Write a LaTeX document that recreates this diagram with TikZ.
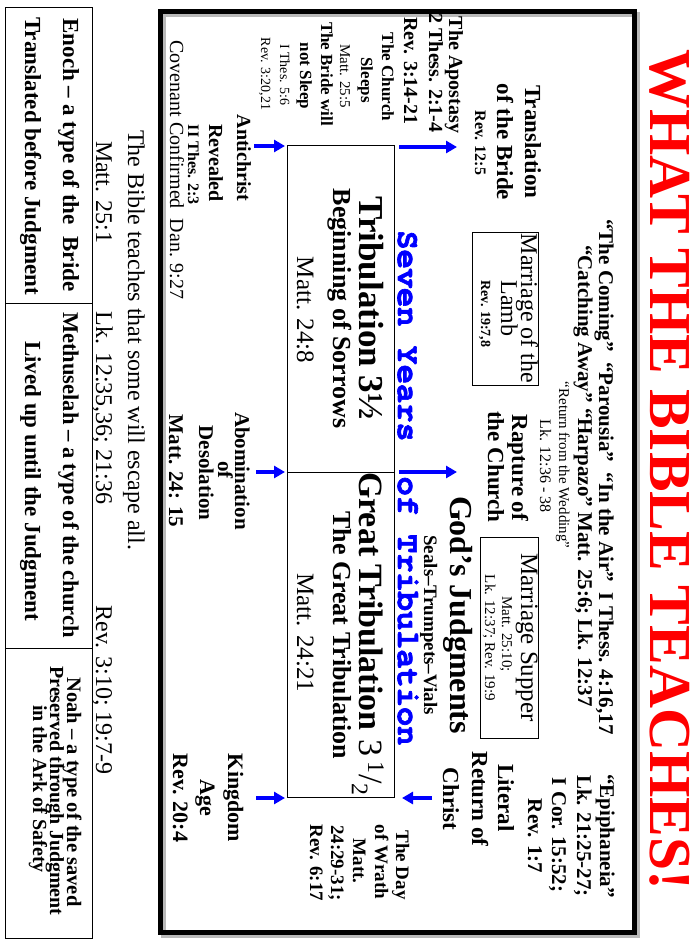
\documentclass[tikz,border=0pt]{standalone}
\usepackage{fontspec}
\setmainfont{Liberation Serif}
\newfontfamily\cursorfont{texgyrecursor}[Extension=.otf, UprightFont=*-regular, BoldFont=*-bold, BoldFeatures={FakeBold=2}]
\usetikzlibrary{arrows.meta}
\newcommand\myfs[1]{\fontsize{#1}{#1}\selectfont}
\tikzset{
  lbl/.style={inner sep=0pt, outer sep=0pt, anchor=base},
  bfs/.style={lbl, font=\myfs{#1}\bfseries},
  rms/.style={lbl, font=\myfs{#1}},
  barrow/.style={draw=blue, line width=3.5pt, -{Triangle[length=11pt,width=12pt]}},
  boxline/.style={draw, line width=1pt, inner sep=0pt},
  bluetitle/.style={lbl, font=\myfs{32}\cursorfont\bfseries, text=blue},
}
\begin{document}
\begin{tikzpicture}[x=1pt,y=1pt]
\useasboundingbox[fill=white] (0,-947) rectangle (697,0);
\begin{scope}[rotate=-90, transform shape]
% frame with shadow
\draw[gray!55, line width=5pt] (15,163) rectangle (935,637);
\draw[black, line width=5pt] (12,160) rectangle (932,634);

% title
\node[lbl, font=\myfs{59.5}\bfseries, text=red] (title) at (470,650) {WHAT THE BIBLE TEACHES!};

% top centre lines
\node[bfs=21] (coming) at (477,599) {“The Coming”~~“Parousia”~~“In the Air”~~I Thess. 4:16,17};
\node[bfs=21] (catching) at (476,578) {“Catching Away” “Harpazo” Matt. 25:6; Lk. 12:37};
\node[rms=15] (wedding) at (465,559) {“Return from the Wedding”};
\node[rms=16] (lk1236) at (466,540) {Lk. 12:36 - 38};

% left column
\node[bfs=20] (apostasy) at (75,449) {The Apostasy};
\node[bfs=20] (thess2) at (73,429) {2 Thess. 2:1-4};
\node[bfs=20] (rev314) at (71,404) {Rev. 3:14-21};
\node[bfs=17] (church) at (77,382) {The Church};
\node[bfs=17] (sleeps) at (80,361) {Sleeps};
\node[rms=15] (matt255) at (76,340) {Matt. 25:5};
\node[bfs=17] (bride) at (74,321) {The Bride will};
\node[bfs=17] (notsleep) at (76,300) {not Sleep};
\node[rms=14] (thes56) at (75,280) {I Thes. 5:6};
\node[rms=14] (rev320) at (74,261) {Rev. 3:20,21};

\node[bfs=20] (antichrist) at (158,237) {Antichrist};
\node[bfs=20] (revealed) at (163,209) {Revealed};
\node[bfs=16] (thes23) at (165,188) {II Thes. 2:3};
\node[rms=20] (covenant) at (170,170) {Covenant Confirmed~~Dan. 9:27};

% translation
\node[bfs=23] (transl) at (142,525) {Translation};
\node[bfs=23] (ofbride) at (142,497) {of the Bride};
\node[bfs=16] (rev125) at (143,475) {Rev. 12:5};

% marriage of the lamb
\node[boxline, minimum width=153pt, minimum height=66pt] (lambbox) at (308.5,505) {};
\node[rms=24] (marlamb1) at (308.5,521) {Marriage of the};
\node[rms=24] (marlamb2) at (308.5,501) {Lamb};
\node[bfs=14] (rev197) at (314,481) {Rev. 19:7,8};

% rapture
\node[bfs=23] (rapture) at (468,512) {Rapture of};
\node[bfs=23] (thechurch) at (467,488) {the Church};

% judgments
\node[bfs=32] (judg) at (615,450) {God’s Judgments};
\node[bfs=19] (seals) at (625,424) {Seals–Trumpets–Vials};

% marriage supper
\node[boxline, minimum width=201pt, minimum height=58pt] (supperbox) at (637.5,509) {};
\node[rms=25] (supper) at (637.5,521) {Marriage Supper};
\node[rms=15] (m2510) at (634,502) {Matt. 25:10;};
\node[rms=15] (lk1237) at (638,485) {Lk. 12:37; Rev. 19:9};

% epiphaneia
\node[bfs=21] (epi) at (836,600) {“Epiphaneia”};
\node[bfs=21] (lk2125) at (836,577) {Lk. 21:25-27;};
\node[bfs=21] (cor) at (835,552) {I Cor. 15:52;};
\node[bfs=21] (rev17) at (836,528) {Rev. 1:7};

% literal return
\node[bfs=23] (literal) at (798,498) {Literal};
\node[bfs=23] (returnof) at (799,472) {Return of};
\node[bfs=23] (christ) at (799,443) {Christ};

% day of wrath
\node[bfs=19] (day) at (865,396) {The Day};
\node[bfs=19] (wrath) at (862,375) {of Wrath};
\node[bfs=19] (mattw) at (861,353) {Matt.};
\node[bfs=19] (v2429) at (863,331) {24:29-31;};
\node[bfs=19] (rev617) at (863,310) {Rev. 6:17};

% kingdom
\node[bfs=22] (kingdom) at (798,228) {Kingdom};
\node[bfs=22] (age) at (798,200) {Age};
\node[bfs=22] (rev204) at (798,173) {Rev. 20:4};

% abomination
\node[bfs=21] (abom) at (471,235) {Abomination};
\node[bfs=21] (abof) at (470,218) {of};
\node[bfs=21] (desol) at (473,199) {Desolation};
\node[bfs=21] (m2415) at (471,169) {Matt. 24: 15};

% timeline box
\node[boxline, minimum width=327pt, minimum height=107pt] (tribA) at (308.5,340.5) {};
\node[boxline, minimum width=325pt, minimum height=107pt] (tribB) at (634.5,340.5) {};
\node[bfs=35] (trib1) at (308,359) {Tribulation 3½};
\node[bfs=26] (begin) at (308.5,333) {Beginning of Sorrows};
\node[rms=25] (m248) at (310,297) {Matt. 24:8};
\node[bfs=34] (trib2) at (634,359) {Great Tribulation {\mdseries 3\,\textsuperscript{1}/\textsubscript{2}}};
\node[bfs=26] (greattrib) at (635,333) {The Great Tribulation};
\node[rms=25] (m2421) at (633,297) {Matt. 24:21};

\node[bluetitle] (seven) at (336,398) {Seven Years};
\node[bluetitle] (oftrib) at (611,398) {of Tribulation};

% arrows
\coordinate (u1a) at (147,399); \coordinate (u1b) at (147,457);
\coordinate (u2a) at (472,399); \coordinate (u2b) at (472,457);
\coordinate (d3a) at (798,432); \coordinate (d3b) at (798,402);
\coordinate (l1a) at (146,254); \coordinate (l1b) at (146,285);
\coordinate (l2a) at (472,256); \coordinate (l2b) at (472,285);
\coordinate (l3a) at (798,256); \coordinate (l3b) at (798,285);
\draw[barrow] (u1a) -- (u1b);
\draw[barrow] (u2a) -- (u2b);
\draw[barrow] (d3a) -- (d3b);
\draw[barrow] (l1a) -- (l1b);
\draw[barrow] (l2a) -- (l2b);
\draw[barrow] (l3a) -- (l3b);

% bottom texts
\node[rms=24] (bibleteach) at (340,128) {The Bible teaches that some will escape all.};
\node[rms=24] (m251) at (192,96) {Matt. 25:1};
\node[rms=24] (lk1235) at (408,96) {Lk. 12:35,36; 21:36};
\node[rms=24] (rev310) at (690,96) {Rev. 3:10; 19:7-9};

% table
\node[boxline, minimum width=295pt, minimum height=87pt] (c1) at (155.5,48.5) {};
\node[boxline, minimum width=345pt, minimum height=87pt] (c2) at (475.5,48.5) {};
\node[boxline, minimum width=290pt, minimum height=87pt] (c3) at (793,48.5) {};
\node[bfs=23] (enoch) at (155,63) {Enoch – a type of the~~Bride};
\node[bfs=23] (translated) at (156,25) {Translated before Judgment};
\node[bfs=22.5] (methu) at (475,63) {Methuselah – a type of the church};
\node[bfs=23] (lived) at (481,25) {Lived up until the Judgment};
\node[bfs=20.5] (noah) at (792,67) {Noah – a type of the saved};
\node[bfs=20] (preserved) at (791,50) {Preserved through Judgment};
\node[bfs=20] (ark) at (789,33) {in the Ark of Safety};
\end{scope}
\end{tikzpicture}
\end{document}
